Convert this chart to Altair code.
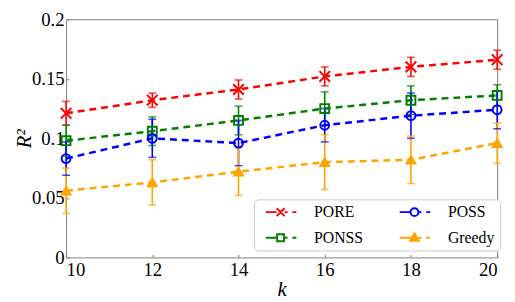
import altair as alt
import pandas as pd

k = [10, 12, 14, 16, 18, 20]
series = ["PORE", "PONSS", "POSS", "Greedy"]

pore = [0.121, 0.132, 0.141, 0.152, 0.160, 0.166]
pore_err = [0.010, 0.006, 0.008, 0.008, 0.008, 0.008]
ponss = [0.098, 0.106, 0.115, 0.125, 0.132, 0.136]
ponss_err = [0.013, 0.012, 0.012, 0.014, 0.012, 0.009]
poss = [0.083, 0.100, 0.096, 0.111, 0.119, 0.124]
poss_err = [0.014, 0.016, 0.019, 0.014, 0.019, 0.016]
greedy = [0.056, 0.063, 0.072, 0.080, 0.082, 0.096]
greedy_err = [0.019, 0.019, 0.020, 0.023, 0.020, 0.017]

colors = ["#ff0000", "#008000", "#0000ff", "#ffa500"]
fills = ["transparent", "transparent", "transparent", "#ffa500"]

x_path = "M-1.2,-1.2L1.2,1.2M-1.2,1.2L1.2,-1.2"
marker_shapes = [x_path, "square", "circle", "triangle-up"]

line_l = "M-0.2,0H2.0"
line_r = "M3.6,0H4.2M5.2,0H6.0"
legend_shapes = [
    line_l + "M2.0,-0.8L3.6,0.8M2.0,0.8L3.6,-0.8" + line_r,
    line_l + "M2.1,-0.7H3.5V0.7H2.1Z" + line_r,
    line_l + "M3.6,0A0.8,0.8 0 1 1 2.0,0A0.8,0.8 0 1 1 3.6,0" + line_r,
    line_l + "M2.8,-0.9L3.7,0.6H1.9Z" + line_r,
]

rows = []
for name, vals, errs in [("PORE", pore, pore_err), ("PONSS", ponss, ponss_err),
                         ("POSS", poss, poss_err), ("Greedy", greedy, greedy_err)]:
    for kk, v, e in zip(k, vals, errs):
        rows.append(dict(k=kk, series=name, r2=v, lo=v - e, hi=v + e))
df = pd.DataFrame(rows)

serif = "Liberation Serif"

xenc = alt.X("k:Q", scale=alt.Scale(domain=[10, 20], nice=False),
             axis=alt.Axis(values=k, title="k", titleFontStyle="italic", titleFontSize=21,
                           titleFont=serif, titleFontWeight="normal", titlePadding=0,
                           labelFont=serif, labelFontSize=19, labelColor="black",
                           domain=False, grid=False, tickSize=3, offset=-3,
                           tickColor="#808080", labelPadding=3))
yenc = alt.Y("r2:Q", scale=alt.Scale(domain=[0, 0.2], nice=False),
             axis=alt.Axis(values=[0, 0.05, 0.1, 0.15, 0.2], format="~g", title="R²",
                           titleFontStyle="italic", titleFontSize=21, titleFont=serif,
                           titleFontWeight="normal", titlePadding=-3,
                           labelFont=serif, labelFontSize=19, labelColor="black",
                           domain=False, grid=False, tickSize=3, offset=-3,
                           tickColor="#808080", labelPadding=2))

cscale = alt.Scale(domain=series, range=colors)

base = alt.Chart(df)

err = base.mark_rule(strokeWidth=1.6).encode(
    x=xenc, y=alt.Y("lo:Q"), y2="hi:Q",
    color=alt.Color("series:N", scale=cscale, legend=None))
cap_lo = base.mark_tick(orient="horizontal", size=8, thickness=1.6).encode(
    x=xenc, y=alt.Y("lo:Q"), color=alt.Color("series:N", scale=cscale, legend=None))
cap_hi = base.mark_tick(orient="horizontal", size=8, thickness=1.6).encode(
    x=xenc, y=alt.Y("hi:Q"), color=alt.Color("series:N", scale=cscale, legend=None))
lines = base.mark_line(strokeDash=[7, 5], strokeWidth=2.5).encode(
    x=xenc, y=yenc, color=alt.Color("series:N", scale=cscale, legend=None), detail="series:N")
points = base.mark_point(strokeWidth=2, size=81, opacity=1).encode(
    x=xenc, y=yenc,
    color=alt.Color("series:N", scale=cscale, legend=None),
    fill=alt.Fill("series:N", scale=alt.Scale(domain=series, range=fills), legend=None),
    shape=alt.Shape("series:N", scale=alt.Scale(domain=series, range=marker_shapes), legend=None))

leg = alt.Legend(title=None, orient="none", legendX=191, legendY=183, columns=2,
                 symbolSize=100, symbolStrokeWidth=2, labelFont=serif, labelFontSize=16,
                 labelColor="black", labelOffset=40, columnPadding=30, rowPadding=9,
                 padding=5, strokeColor="#cccccc", fillColor="white", cornerRadius=4,
                 labelLimit=0)
legend_layer = base.transform_filter("false").mark_point(strokeWidth=2, opacity=1).encode(
    x=xenc, y=yenc,
    color=alt.Color("series:N", scale=alt.Scale(domain=series, range=colors), legend=leg),
    fill=alt.Fill("series:N", scale=alt.Scale(domain=series, range=fills), legend=leg),
    shape=alt.Shape("series:N", scale=alt.Scale(domain=series, range=legend_shapes), legend=leg))

chart = alt.layer(err, cap_lo, cap_hi, lines, points, legend_layer).resolve_scale(
    color="independent", fill="independent", shape="independent"
).properties(
    width=438, height=242,
    autosize=alt.AutoSizeParams(type="none"),
    padding={"left": 59, "top": 9, "right": 10, "bottom": 50},
).configure(background="white", font=serif).configure_view(stroke="#808080", strokeWidth=1)

chart.save("out.html", embed_options={"renderer": "svg", "actions": False})
